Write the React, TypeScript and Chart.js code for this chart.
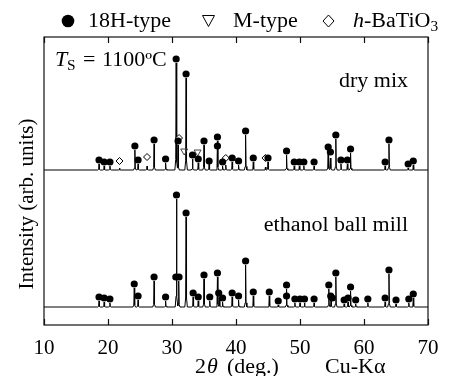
import React, { useEffect, useRef } from "react";
import { Chart, registerables } from "chart.js";

Chart.register(...registerables);

// ---- data (2θ in degrees, intensities in arbitrary units) ----
const X_MIN = 10;
const X_MAX = 70;
const X_TICKS = [10, 20, 30, 40, 50, 60, 70];
const Y_MAX = 288;

const DRY_BASE = 155;
const ETH_BASE = 18;

// [2θ, peak height above baseline]
const DRY_PEAKS: [number, number][] = [
  [18.6, 6], [19.4, 4], [20.3, 4], [21.8, 2], [24.2, 20], [24.7, 6], [26.1, 4],
  [27.2, 26], [29.0, 7], [30.65, 107], [30.95, 25], [32.2, 92], [33.2, 11],
  [34.1, 7], [35.0, 25], [35.8, 6], [37.1, 29], [37.9, 4], [38.4, 5], [39.4, 8],
  [40.4, 5], [41.5, 35], [42.7, 8], [44.6, 3], [45.0, 8], [47.9, 15], [49.1, 4],
  [49.9, 4], [50.6, 4], [52.2, 4], [54.4, 19], [54.75, 12], [55.6, 31], [56.4, 6],
  [57.4, 6], [57.9, 17], [63.3, 4], [63.9, 26], [66.9, 2], [67.7, 5],
];

const ETH_PEAKS: [number, number][] = [
  [18.6, 6], [19.4, 5], [20.3, 4], [24.1, 19], [24.7, 7], [27.2, 26], [29.0, 6],
  [30.7, 108], [31.05, 26], [32.2, 90], [33.3, 10], [34.1, 6], [35.0, 28],
  [35.9, 6], [37.1, 30], [37.4, 9], [37.9, 5], [39.4, 10], [40.4, 7], [41.5, 42],
  [42.7, 11], [45.2, 11], [46.6, 2], [47.9, 18], [49.2, 4], [50.0, 4], [50.7, 4],
  [52.2, 4], [54.5, 18], [54.85, 7], [55.6, 30], [56.9, 3], [57.5, 5], [57.9, 16],
  [58.7, 3], [60.6, 4], [63.3, 5], [63.9, 33], [65.0, 3], [67.0, 4], [67.7, 9],
];

// 18H-type markers [2θ, height above baseline]
const DRY_CIRCLES: [number, number][] = [
  [18.6, 10], [19.4, 8], [20.3, 8], [24.2, 24], [24.7, 10], [27.2, 30], [29.0, 11],
  [30.65, 111], [30.95, 29], [32.2, 96], [33.2, 15], [34.1, 11], [35.0, 29],
  [35.8, 9], [37.1, 33], [37.1, 24], [37.9, 8], [39.4, 12], [40.4, 9], [41.5, 39],
  [42.7, 12], [45.0, 12], [47.9, 19], [49.1, 8], [49.9, 8], [50.6, 8], [52.2, 8],
  [54.4, 23], [54.75, 18], [55.6, 35], [56.4, 10], [57.4, 10], [57.9, 21],
  [63.3, 8], [63.9, 30], [66.9, 6], [67.7, 9],
];

const ETH_CIRCLES: [number, number][] = [
  [18.6, 10], [19.4, 9], [20.3, 8], [24.1, 23], [24.7, 11], [27.2, 30], [29.0, 10],
  [30.7, 112], [30.6, 30], [31.1, 30], [32.2, 94], [33.3, 14], [34.1, 10],
  [35.0, 32], [35.9, 10], [37.1, 34], [37.3, 14], [37.9, 9], [39.4, 14], [40.4, 11],
  [41.5, 46], [42.7, 15], [45.2, 15], [46.6, 6], [47.9, 22], [47.9, 11], [49.2, 8],
  [50.0, 8], [50.7, 8], [52.2, 8], [54.5, 22], [54.8, 11], [55.05, 9], [55.6, 34],
  [56.9, 7], [57.5, 9], [57.9, 20], [58.7, 7], [60.6, 8], [63.3, 9], [63.9, 37],
  [65.0, 7], [67.0, 8], [67.7, 13],
];

// M-type markers
const DRY_TRIANGLES: [number, number][] = [[31.9, 19], [34.0, 18]];
// h-BaTiO3 markers
const DRY_DIAMONDS: [number, number][] = [
  [21.8, 9], [26.1, 13], [31.1, 32], [38.4, 12], [44.6, 12],
];

// peak profile (offset in deg, fraction of height)
const PROFILE: [number, number][] = [
  [-0.2, 0], [-0.07, 0.1], [0, 1], [0.07, 0.1], [0.2, 0],
];

function profileAt(d: number): number {
  if (d <= PROFILE[0][0] || d >= PROFILE[PROFILE.length - 1][0]) return 0;
  for (let i = 0; i < PROFILE.length - 1; i++) {
    const [x0, y0] = PROFILE[i];
    const [x1, y1] = PROFILE[i + 1];
    if (d >= x0 && d <= x1) return y0 + ((d - x0) / (x1 - x0)) * (y1 - y0);
  }
  return 0;
}

function buildTrace(peaks: [number, number][], base: number) {
  const xs = new Set<number>([X_MIN, X_MAX]);
  peaks.forEach(([p]) => PROFILE.forEach(([o]) => xs.add(+(p + o).toFixed(4))));
  const sorted = Array.from(xs).sort((a, b) => a - b);
  return sorted.map((x) => ({
    x,
    y: base + peaks.reduce((s, [p, h]) => s + h * profileAt(x - p), 0),
  }));
}

const toPts = (arr: [number, number][], base: number) =>
  arr.map(([x, h]) => ({ x, y: base + h }));

const SERIF = "'Liberation Serif', 'Times New Roman', serif";

function txt(
  ctx: CanvasRenderingContext2D,
  s: string,
  x: number,
  y: number,
  size = 20,
  italic = false,
  align: CanvasTextAlign = "left",
  sx = 1.1
): number {
  ctx.save();
  ctx.font = `${italic ? "italic " : ""}${size}px ${SERIF}`;
  ctx.fillStyle = "#000";
  ctx.textBaseline = "alphabetic";
  const w = ctx.measureText(s).width * sx;
  ctx.translate(x, y);
  ctx.scale(sx, 1);
  ctx.textAlign = "left";
  const dx = align === "right" ? -w / sx : align === "center" ? -w / (2 * sx) : 0;
  ctx.fillText(s, dx, 0);
  ctx.restore();
  return w;
}

const decorPlugin = {
  id: "decor",
  afterDraw(chart: any) {
    const { ctx, chartArea: a, scales } = chart;
    ctx.save();
    ctx.strokeStyle = "#111";
    ctx.lineWidth = 1.2;
    ctx.strokeRect(a.left, a.top, a.right - a.left, a.bottom - a.top);
    ctx.beginPath();
    X_TICKS.forEach((v) => {
      const px = Math.round(scales.x.getPixelForValue(v)) + 0.5;
      ctx.moveTo(px, a.bottom);
      ctx.lineTo(px, a.bottom - 6);
      ctx.moveTo(px, a.top);
      ctx.lineTo(px, a.top + 6);
    });
    ctx.stroke();

    // legend
    ctx.fillStyle = "#000";
    ctx.beginPath();
    ctx.arc(68, 21, 6.3, 0, Math.PI * 2);
    ctx.fill();
    txt(ctx, "18H-type", 88, 27);
    ctx.strokeStyle = "#000";
    ctx.lineWidth = 1;
    ctx.beginPath();
    ctx.moveTo(202.5, 15.5);
    ctx.lineTo(214.5, 15.5);
    ctx.lineTo(208.5, 26.5);
    ctx.closePath();
    ctx.stroke();
    txt(ctx, "M-type", 233, 27);
    ctx.beginPath();
    ctx.moveTo(328.5, 15);
    ctx.lineTo(334, 21);
    ctx.lineTo(328.5, 27);
    ctx.lineTo(323, 21);
    ctx.closePath();
    ctx.stroke();
    let x = 353;
    x += txt(ctx, "h", x, 27, 20, true);
    x += txt(ctx, "-BaTiO", x, 27);
    txt(ctx, "3", x, 31, 14);

    // T_S annotation
    txt(ctx, "T", 55, 66, 20, true);
    txt(ctx, "S", 67, 70, 14);
    txt(ctx, "=", 83, 66);
    txt(ctx, "1100ºC", 102, 66);

    txt(ctx, "dry mix", 408, 87, 20, false, "right");
    txt(ctx, "ethanol ball mill", 408, 231, 20, false, "right");

    // x title
    txt(ctx, "2", 195, 373);
    txt(ctx, "θ", 207, 373, 20, true);
    txt(ctx, "(deg.)", 227, 373);
    txt(ctx, "Cu-Kα", 325, 373);

    // y title
    ctx.save();
    ctx.translate(32.5, 204);
    ctx.rotate(-Math.PI / 2);
    ctx.font = `21px ${SERIF}`;
    ctx.fillStyle = "#000";
    ctx.textAlign = "center";
    ctx.textBaseline = "alphabetic";
    ctx.fillText("Intensity (arb. units)", 0, 0);
    ctx.restore();

    ctx.restore();
  },
};

export default function App() {
  const ref = useRef<HTMLCanvasElement | null>(null);

  useEffect(() => {
    document.body.style.margin = "0";
    if (!ref.current) return;
    const chart = new Chart(ref.current, {
      type: "scatter",
      data: {
        datasets: [
          {
            data: buildTrace(DRY_PEAKS, DRY_BASE),
            showLine: true,
            borderColor: "#000",
            borderWidth: 1,
            pointRadius: 0,
            order: 5,
          },
          {
            data: buildTrace(ETH_PEAKS, ETH_BASE),
            showLine: true,
            borderColor: "#000",
            borderWidth: 1,
            pointRadius: 0,
            order: 5,
          },
          {
            data: [...toPts(DRY_CIRCLES, DRY_BASE), ...toPts(ETH_CIRCLES, ETH_BASE)],
            pointStyle: "circle",
            pointRadius: 3.6,
            backgroundColor: "#000",
            borderColor: "#000",
            borderWidth: 0,
            order: 1,
          },
          {
            data: toPts(DRY_TRIANGLES, DRY_BASE),
            pointStyle: "triangle",
            rotation: 180,
            pointRadius: 4,
            backgroundColor: "rgba(255,255,255,0)",
            borderColor: "#444",
            borderWidth: 1,
            order: 1,
          },
          {
            data: toPts(DRY_DIAMONDS, DRY_BASE),
            pointStyle: "rectRot",
            pointRadius: 3.5,
            backgroundColor: "#fff",
            borderColor: "#000",
            borderWidth: 1,
            order: 1,
          },
        ] as any,
      },
      options: {
        responsive: false,
        animation: false,
        devicePixelRatio: 1,
        layout: { padding: { left: 44, right: 22, top: 37, bottom: 0 } },
        plugins: { legend: { display: false }, tooltip: { enabled: false } },
        scales: {
          x: {
            type: "linear",
            min: X_MIN,
            max: X_MAX,
            afterFit: (s: any) => {
              s.height = 51;
            },
            afterBuildTicks: (s: any) => {
              s.ticks = X_TICKS.map((v) => ({ value: v }));
            },
            ticks: {
              font: { family: SERIF, size: 21 },
              color: "#000",
              padding: 3,
            },
            grid: { display: false },
            border: { display: false },
          },
          y: { display: false, min: 0, max: Y_MAX },
        },
      } as any,
      plugins: [decorPlugin],
    });
    return () => chart.destroy();
  }, []);

  return (
    <div style={{ position: "fixed", left: 0, top: 0, width: 450, height: 376, background: "#fff" }}>
      <canvas ref={ref} width={450} height={376} />
    </div>
  );
}
